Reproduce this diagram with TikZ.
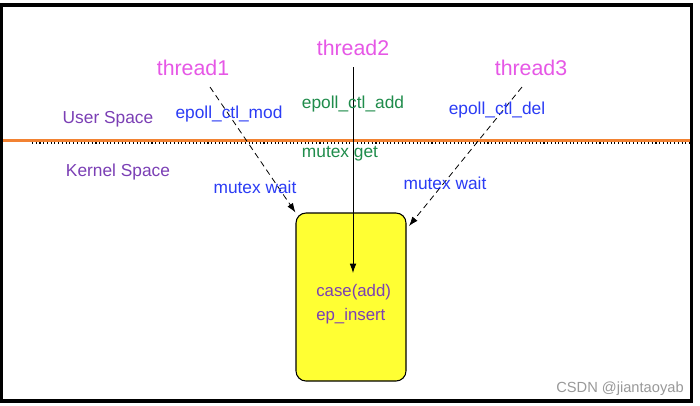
\documentclass[tikz,border=0pt]{standalone}
\usepackage{fontspec}
\setmainfont{Liberation Sans}
\usetikzlibrary{arrows.meta}
\definecolor{thr}{HTML}{E657E6}
\definecolor{blu}{HTML}{2B3CF5}
\definecolor{grn}{HTML}{1F8C4B}
\definecolor{pur}{HTML}{7B3FB5}
\definecolor{org}{HTML}{F28232}
\definecolor{yel}{HTML}{FFFF33}
\begin{document}
\begin{tikzpicture}[x=0.75pt,y=-0.75pt,
  thread/.style={text=thr,font=\fontsize{16}{18}\selectfont,inner sep=0pt},
  lbl/.style={font=\fontsize{13}{15}\selectfont,inner sep=0pt},
  arr/.style={-{Latex[length=7pt,width=5pt]},line width=0.6pt},
  dsh/.style={arr,dash pattern=on 4.5pt off 3pt}]
\useasboundingbox (0,0) rectangle (700,405);
\fill[white] (0,0) rectangle (700,405);
\draw[line width=2.3pt] (1.5,5) rectangle (691.5,401);
% separators
\draw[org,line width=2pt] (3,140.5) -- (690,140.5);
\draw[dotted,line width=0.8pt] (32,143) -- (690,143);
% box
\node[draw,fill=yel,rounded corners=7.5pt,line width=0.8pt,minimum width=110*0.75pt,minimum height=168*0.75pt,inner sep=0pt] (box) at (351,297) {};
\node[lbl,text=pur,align=left,anchor=west,font=\fontsize{12.6}{17.5}\selectfont] (bt) at (316,304) {case(add)\\ep\_insert};
% threads
\node[thread] (t1) at (193,68) {thread1};
\node[thread] (t2) at (353,48) {thread2};
\node[thread] (t3) at (531,68) {thread3};
\coordinate (s1) at (210,87);
\coordinate (s2) at (353,67);
\coordinate (s3) at (522,87);
\coordinate (e2) at (353,273);
\coordinate (e3) at (409,226);
\draw[dsh] (s1) -- (box.north west);
\draw[arr] (s2) -- (e2);
\draw[dsh] (s3) -- (e3);
% labels
\node[lbl,text=pur] (us) at (108,119) {User Space};
\node[lbl,text=pur] (ks) at (118,172) {Kernel Space};
\node[lbl,text=blu] (l1) at (229,114) {epoll\_ctl\_mod};
\node[lbl,text=grn] (l2) at (353,104) {epoll\_ctl\_add};
\node[lbl,text=blu] (l3) at (497,110) {epoll\_ctl\_del};
\node[lbl,text=grn] (m2) at (340,154) {mutex get};
\node[lbl,text=blu] (m1) at (255,187) {mutex wait};
\node[lbl,text=blu] (m3) at (445,183) {mutex wait};
\node[text=black!40,font=\fontsize{11}{13}\selectfont,inner sep=0pt] (wm) at (620,389) {CSDN @jiantaoyab};
\end{tikzpicture}
\end{document}
